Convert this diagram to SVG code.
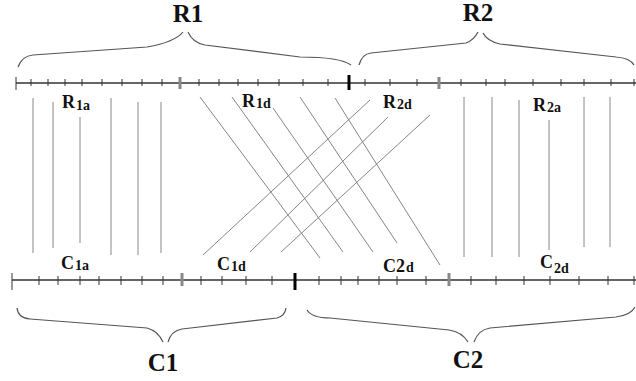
<svg xmlns="http://www.w3.org/2000/svg" width="636" height="381" viewBox="0 0 636 381">
<style>
.bg{fill:#fff}
.axis{stroke:#333;stroke-width:1.3;fill:none}
.tick{stroke:#333;stroke-width:1}
.bold{stroke:#000;stroke-width:3}
.gray{stroke:#888;stroke-width:3}
.brace{stroke:#555;stroke-width:1.2;fill:none}
.v{stroke:#888;stroke-width:1}
.d{stroke:#777;stroke-width:0.9}
.big{font-family:"Liberation Serif","Times New Roman",serif;font-weight:bold;font-size:25px;fill:#111}
.lab{font-family:"Liberation Serif","Times New Roman",serif;font-weight:bold;font-size:18px;fill:#111}
.sub{font-size:14px}
</style>
<rect class="bg" x="0" y="0" width="636" height="381"/>

<g id="axis-top">
<line class="axis" x1="16" y1="83" x2="636" y2="83"/>
<line class="tick" x1="16" y1="77" x2="16" y2="90"/>
<g class="tick">
<line x1="31" y1="79" x2="31" y2="86"/><line x1="48" y1="79" x2="48" y2="86"/><line x1="65" y1="79" x2="65" y2="86"/><line x1="82" y1="79" x2="82" y2="86"/><line x1="102" y1="79" x2="102" y2="86"/><line x1="122" y1="79" x2="122" y2="86"/><line x1="142" y1="79" x2="142" y2="86"/><line x1="162" y1="79" x2="162" y2="86"/><line x1="199" y1="79" x2="199" y2="86"/><line x1="219" y1="79" x2="219" y2="86"/><line x1="238" y1="79" x2="238" y2="86"/><line x1="258" y1="79" x2="258" y2="86"/><line x1="279" y1="79" x2="279" y2="86"/><line x1="303" y1="79" x2="303" y2="86"/><line x1="328" y1="79" x2="328" y2="86"/><line x1="365" y1="79" x2="365" y2="86"/><line x1="390" y1="79" x2="390" y2="86"/><line x1="417" y1="79" x2="417" y2="86"/><line x1="461" y1="79" x2="461" y2="86"/><line x1="486" y1="79" x2="486" y2="86"/><line x1="505" y1="79" x2="505" y2="86"/><line x1="533" y1="79" x2="533" y2="86"/><line x1="561" y1="79" x2="561" y2="86"/><line x1="584" y1="79" x2="584" y2="86"/><line x1="611" y1="79" x2="611" y2="86"/><line x1="634" y1="79" x2="634" y2="86"/>
</g>
<line class="gray" x1="180" y1="77" x2="180" y2="89"/>
<line class="gray" x1="439" y1="77" x2="439" y2="89"/>
<line class="bold" x1="349" y1="75" x2="349" y2="90"/>
</g>

<g id="axis-bottom">
<line class="axis" x1="12" y1="280" x2="636" y2="280"/>
<line class="tick" x1="12" y1="273" x2="12" y2="290"/>
<g class="tick">
<line x1="39" y1="276" x2="39" y2="285"/><line x1="58" y1="276" x2="58" y2="285"/><line x1="80" y1="276" x2="80" y2="285"/><line x1="99" y1="276" x2="99" y2="285"/><line x1="121" y1="276" x2="121" y2="285"/><line x1="142" y1="276" x2="142" y2="285"/><line x1="163" y1="276" x2="163" y2="285"/><line x1="201" y1="276" x2="201" y2="285"/><line x1="222" y1="276" x2="222" y2="285"/><line x1="246" y1="276" x2="246" y2="285"/><line x1="272" y1="276" x2="272" y2="285"/><line x1="319" y1="276" x2="319" y2="285"/><line x1="341" y1="276" x2="341" y2="285"/><line x1="358" y1="276" x2="358" y2="285"/><line x1="379" y1="276" x2="379" y2="285"/><line x1="397" y1="276" x2="397" y2="285"/><line x1="426" y1="276" x2="426" y2="285"/><line x1="471" y1="276" x2="471" y2="285"/><line x1="496" y1="276" x2="496" y2="285"/><line x1="524" y1="276" x2="524" y2="285"/><line x1="550" y1="276" x2="550" y2="285"/><line x1="579" y1="276" x2="579" y2="285"/><line x1="608" y1="276" x2="608" y2="285"/><line x1="634" y1="276" x2="634" y2="285"/>
</g>
<line class="gray" x1="182" y1="273" x2="182" y2="286"/>
<line class="gray" x1="449" y1="273" x2="449" y2="286"/>
<line class="bold" x1="295" y1="273" x2="295" y2="290"/>
</g>

<g id="braces">
<path class="brace" d="M18 67 Q22 56 33 55 L147 47 Q175 42 183 32 M188 32 Q193 43 205 45 L300 57 Q340 57 351 65"/>
<path class="brace" d="M359 65 Q362 54 371 53 L466 43 Q474 40 478 32 M483 33 Q487 41 500 44 L616 57 Q630 58 634 65"/>
<path class="brace" d="M17 308 Q18 318 30 319 L147 328 Q158 331 163 342 M168 342 Q171 331 182 329 L277 318 Q285 316 286 308"/>
<path class="brace" d="M307 310 Q312 318 330 318 L449 330 Q462 332 468 342 M474 342 Q478 330 490 328 L616 317 Q631 315 635 307"/>
</g>

<g id="connectors">
<g class="v">
<line x1="33" y1="98" x2="33" y2="253"/>
<line x1="53" y1="102" x2="53" y2="248"/>
<line x1="80" y1="117" x2="80" y2="243"/>
<line x1="111" y1="98" x2="111" y2="255"/>
<line x1="138" y1="102" x2="138" y2="255"/>
<line x1="161" y1="102" x2="161" y2="253"/>
<line x1="464" y1="97" x2="464" y2="257"/>
<line x1="492" y1="97" x2="492" y2="257"/>
<line x1="519" y1="100" x2="519" y2="257"/>
<line x1="549" y1="120" x2="549" y2="250"/>
<line x1="584" y1="97" x2="584" y2="247"/>
<line x1="610" y1="97" x2="610" y2="247"/>
</g>
<g class="d">
<line x1="200" y1="97" x2="320" y2="258"/>
<line x1="232" y1="97" x2="343" y2="252"/>
<line x1="273" y1="108" x2="373" y2="252"/>
<line x1="300" y1="97" x2="397" y2="243"/>
<line x1="335" y1="98" x2="440" y2="265"/>
<line x1="370" y1="100" x2="203" y2="255"/>
<line x1="388" y1="117" x2="250" y2="252"/>
<line x1="430" y1="115" x2="281" y2="252"/>
</g>
</g>

<g id="label-R1"><text class="big" x="188" y="22" text-anchor="middle">R1</text></g>
<g id="label-R2"><text class="big" x="478" y="21" text-anchor="middle">R2</text></g>
<g id="label-C1"><text class="big" x="163" y="371" text-anchor="middle">C1</text></g>
<g id="label-C2"><text class="big" x="468" y="368" text-anchor="middle">C2</text></g>

<g id="label-R1a"><text class="lab" x="62" y="108">R<tspan class="sub" dy="2" dx="1">1a</tspan></text></g>
<g id="label-R1d"><text class="lab" x="242" y="107">R<tspan class="sub" dy="1" dx="1">1d</tspan></text></g>
<g id="label-R2d"><text class="lab" x="383" y="108">R<tspan class="sub" dy="1" dx="1">2d</tspan></text></g>
<g id="label-R2a"><text class="lab" x="533" y="111">R<tspan class="sub" dy="1" dx="1">2a</tspan></text></g>
<g id="label-C1a"><text class="lab" x="61" y="269">C<tspan class="sub" dy="1" dx="1">1a</tspan></text></g>
<g id="label-C1d"><text class="lab" x="217" y="270">C<tspan class="sub" dy="1" dx="1">1d</tspan></text></g>
<g id="label-C2d-left"><text class="lab" x="383" y="272">C2<tspan class="sub" dx="1">d</tspan></text></g>
<g id="label-C2d-right"><text class="lab" x="540" y="268">C<tspan class="sub" dy="5" dx="1">2d</tspan></text></g>
</svg>
